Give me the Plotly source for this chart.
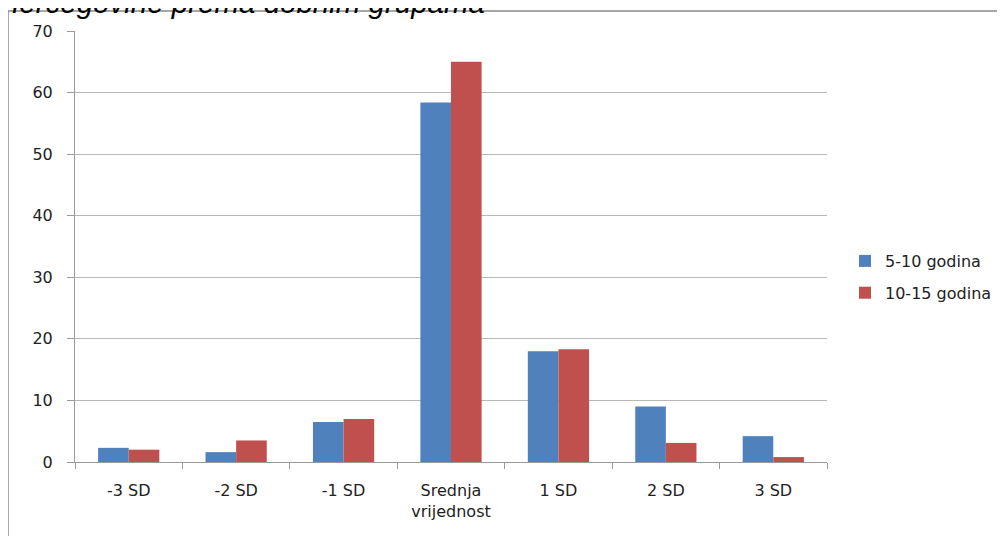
import plotly.graph_objects as go

categories = ["-3 SD", "-2 SD", "-1 SD", "Srednja<br>vrijednost", "1 SD", "2 SD", "3 SD"]
series_names = ["5-10 godina", "10-15 godina"]
values_5_10 = [2.3, 1.6, 6.5, 58.4, 18.0, 9.0, 4.2]
values_10_15 = [2.0, 3.5, 7.0, 65.0, 18.3, 3.1, 0.8]
y_ticks = [0, 10, 20, 30, 40, 50, 60, 70]
title_text = "Hercegovine prema dobnim grupama"

W, H = 1005, 536
OFF = 8  # page body margin
# plot area in page pixels: x 75..827, y 31..462
L = 75 - OFF
T = 31 - OFF
R = W - (827 - OFF)
B = H - (462 - OFF)
pw, ph = W - L - R, H - T - B

def px_x(p):  # page px -> paper
    return (p - OFF - L) / pw

def px_y(p):
    return (H - B - (p - OFF)) / ph

fig = go.Figure()
fig.add_trace(go.Bar(x=categories, y=values_5_10, name=series_names[0], legendgroup="a",
                     marker=dict(color="#4F81BD", line=dict(width=0))))
fig.add_trace(go.Bar(x=categories, y=values_10_15, name=series_names[1], legendgroup="b",
                     marker=dict(color="#C0504D", line=dict(width=0))))

fig.update_layout(
    width=W, height=H,
    margin=dict(l=L, r=R, t=T, b=B, pad=0),
    paper_bgcolor="white", plot_bgcolor="white",
    barmode="group", bargap=0.43, bargroupgap=0,
    font=dict(family="DejaVu Sans, sans-serif", size=16, color="#222"),
    legend=dict(x=px_x(845), y=px_y(277), xanchor="left", yanchor="middle",
                font=dict(size=16, family="DejaVu Sans, sans-serif", color="#222"),
                traceorder="grouped", tracegroupgap=8, itemwidth=30,
                bgcolor="rgba(0,0,0,0)"),
    xaxis=dict(showgrid=False, showline=True, linecolor="#9a9a9a", linewidth=1,
               ticks="outside", ticklen=6, tickcolor="#9a9a9a", tickson="boundaries",
               tickfont=dict(size=16, family="DejaVu Sans, sans-serif", color="#222"),
               ticklabelstandoff=14),
    yaxis=dict(range=[0, 70], tickvals=y_ticks, showgrid=True, gridcolor="#b8b8b8",
               gridwidth=1, showline=True, linecolor="#9a9a9a", linewidth=1,
               ticks="outside", ticklen=7, tickcolor="#9a9a9a", zeroline=False,
               tickfont=dict(size=16, family="DejaVu Sans, sans-serif", color="#222"),
               ticklabelstandoff=11),
    showlegend=True,
)

# outer frame (partially off-page)
fig.add_shape(type="rect", xref="paper", yref="paper",
              x0=px_x(8), x1=px_x(1100), y0=px_y(600), y1=px_y(11),
              line=dict(color="#8a8a8a", width=1.5), fillcolor="rgba(0,0,0,0)", layer="below")

fig.add_annotation(text=title_text, xref="paper", yref="paper",
                   x=px_x(-4), y=px_y(21), xanchor="left", yanchor="bottom",
                   showarrow=False,
                   font=dict(size=29.5, family="Liberation Sans, Arial, sans-serif",
                             color="#000", style="italic"))

fig.write_html("out.html")
